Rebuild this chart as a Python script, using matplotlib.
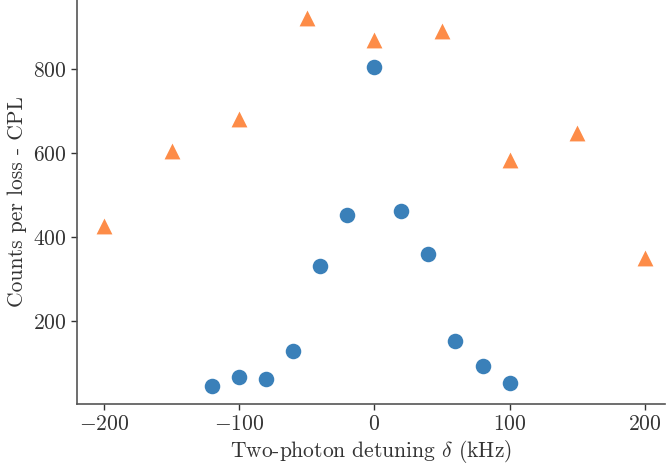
import matplotlib
matplotlib.use('Agg')
import matplotlib.pyplot as plt

# data
det_blue = [-120, -100, -80, -60, -40, -20, 0, 20, 40, 60, 80, 100]
cpl_blue = [45, 66, 62, 129, 331, 452, 805, 462, 360, 152, 93, 52]

det_orange = [-200, -150, -100, -50, 0, 50, 100, 150, 200]
cpl_orange = [425, 605, 681, 921, 869, 890, 583, 647, 350]

plt.rcParams['font.family'] = 'serif'
plt.rcParams['font.serif'] = ['cmr10']
plt.rcParams['mathtext.fontset'] = 'cm'
plt.rcParams['axes.formatter.use_mathtext'] = True
plt.rcParams['axes.unicode_minus'] = True

fig = plt.figure(figsize=(6.66, 4.69), dpi=100)
ax = fig.add_axes([0.1156, 0.1386, 0.8829, 0.8614])

ax.scatter(det_blue, cpl_blue, s=125, marker='o', color='#3a80b9', linewidths=0)
ax.scatter(det_orange, cpl_orange, s=130, marker='^', color='#fd8c48', linewidths=0)

ax.set_xlim(-220, 215)
ax.set_ylim(2, 964)
ax.set_xticks([-200, -100, 0, 100, 200])
ax.set_yticks([200, 400, 600, 800])

ax.set_xlabel(r'Two-photon detuning $\delta$ (kHz)', fontsize=15.5, color='#333333', labelpad=3)
ax.set_ylabel('Counts per loss - CPL', fontsize=15.5, color='#333333')

for side in ['top', 'right']:
    ax.spines[side].set_visible(False)
for side in ['left', 'bottom']:
    ax.spines[side].set_color('#555555')
    ax.spines[side].set_linewidth(1.2)
ax.tick_params(labelsize=15.5, colors='#333333', length=4, width=1)

fig.savefig('out.png', dpi=100)
